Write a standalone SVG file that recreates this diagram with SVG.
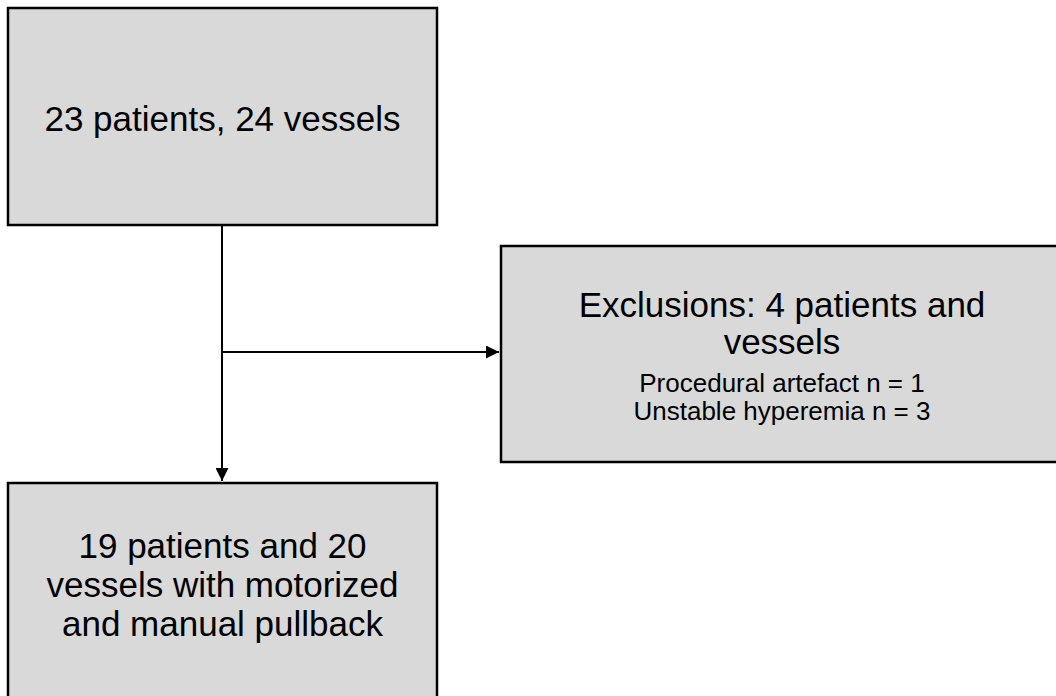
<svg xmlns="http://www.w3.org/2000/svg" width="1056" height="696" viewBox="0 0 1056 696">
<style>
.box{fill:#d9d9d9;stroke:#000;stroke-width:2.5}
.big{font-family:"Liberation Sans",Arial,sans-serif;font-size:35px;fill:#000;text-anchor:middle}
.small{font-family:"Liberation Sans",Arial,sans-serif;font-size:26px;fill:#000;text-anchor:middle}
.conn{stroke:#000;stroke-width:2;fill:none}
</style>
<defs>
<marker id="arr" viewBox="0 0 10 10" refX="10" refY="5" markerWidth="6.5" markerHeight="6.5" orient="auto" markerUnits="strokeWidth">
<path d="M0,0 L10,5 L0,10 z" fill="#000"/>
</marker>
</defs>
<rect width="1056" height="696" fill="#fff"/>
<g id="connectors">
<line class="conn" x1="222" y1="225" x2="222" y2="481" marker-end="url(#arr)"/>
<line class="conn" x1="222" y1="352" x2="499" y2="352" marker-end="url(#arr)"/>
</g>
<g id="node-start">
<rect class="box" x="8" y="8" width="429" height="217"/>
<text class="big" x="222.5" y="131">23 patients, 24 vessels</text>
</g>
<g id="node-exclusions">
<rect class="box" x="501" y="246" width="562" height="216"/>
<text class="big" x="782" y="317">Exclusions: 4 patients and</text>
<text class="big" x="782" y="354">vessels</text>
<text class="small" x="782" y="392">Procedural artefact n = 1</text>
<text class="small" x="782" y="420">Unstable hyperemia n = 3</text>
</g>
<g id="node-final">
<rect class="box" x="8" y="483" width="429" height="230"/>
<text class="big" x="222.5" y="558">19 patients and 20</text>
<text class="big" x="222.5" y="597">vessels with motorized</text>
<text class="big" x="222.5" y="636">and manual pullback</text>
</g>
</svg>
